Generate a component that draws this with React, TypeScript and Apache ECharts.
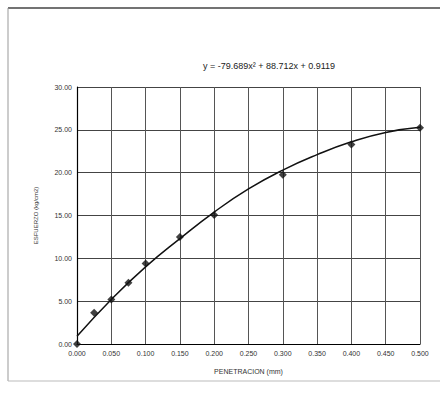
import React, { useEffect, useRef } from "react";
import * as echarts from "echarts";

const penetration = [0, 0.025, 0.05, 0.075, 0.1, 0.15, 0.2, 0.3, 0.4, 0.5];
const esfuerzo = [0, 3.65, 5.2, 7.15, 9.4, 12.5, 15.05, 19.75, 23.3, 25.25];

const trendX = [0, 0.05, 0.1, 0.15, 0.2, 0.25, 0.3, 0.35, 0.4, 0.45, 0.5];
const trendY = [0.9, 5.2, 9.0, 12.3, 15.4, 18.1, 20.3, 22.1, 23.6, 24.7, 25.3];

const equationText = "y = -79.689x² + 88.712x + 0.9119";
const xAxisName = "PENETRACION (mm)";
const yAxisName = "ESFUERZO (kg/cm2)";

export default function App() {
  const ref = useRef<HTMLDivElement>(null);
  useEffect(() => {
    if (!ref.current) return;
    const chart = echarts.init(ref.current, undefined, { renderer: "svg" });
    const font = "'Liberation Sans', Arial, sans-serif";
    chart.setOption({
      animation: false,
      backgroundColor: "#ffffff",
      textStyle: { fontFamily: font },
      grid: { left: 77, top: 87, right: 20, bottom: 56, containLabel: false },
      graphic: [
        { type: "line", shape: { x1: 8, y1: 8, x2: 440, y2: 8 }, style: { stroke: "#444", lineWidth: 1.5 } },
        { type: "line", shape: { x1: 8, y1: 8, x2: 8, y2: 381 }, style: { stroke: "#999", lineWidth: 1 } },
        { type: "line", shape: { x1: 8, y1: 381, x2: 440, y2: 381 }, style: { stroke: "#bbb", lineWidth: 1 } },
        {
          type: "text",
          x: 269,
          y: 66,
          style: {
            text: equationText,
            fontSize: 9,
            fontFamily: font,
            fill: "#222",
            textAlign: "center",
            textVerticalAlign: "middle",
          },
        },
      ],
      xAxis: {
        type: "value",
        min: 0,
        max: 0.5,
        interval: 0.05,
        name: xAxisName,
        nameLocation: "middle",
        nameGap: 24,
        nameTextStyle: { fontSize: 7, color: "#333", fontFamily: font },
        axisLine: { show: true, lineStyle: { color: "#000", width: 1.2 } },
        axisTick: { show: false },
        axisLabel: {
          fontSize: 7,
          color: "#333",
          margin: 6,
          formatter: (v: number) => v.toFixed(3),
        },
        splitLine: { show: true, lineStyle: { color: "#555", width: 1 } },
      },
      yAxis: {
        type: "value",
        min: 0,
        max: 30,
        interval: 5,
        name: yAxisName,
        nameLocation: "middle",
        nameRotate: 90,
        nameGap: 38,
        nameTextStyle: { fontSize: 6, color: "#333", fontFamily: font },
        axisLine: { show: true, lineStyle: { color: "#000", width: 1.2 } },
        axisTick: { show: false },
        axisLabel: {
          fontSize: 7,
          color: "#333",
          margin: 5,
          formatter: (v: number) => v.toFixed(2),
        },
        splitLine: { show: true, lineStyle: { color: "#444", width: 1 } },
      },
      series: [
        {
          type: "line",
          data: trendX.map((x, i) => [x, trendY[i]]),
          smooth: true,
          showSymbol: false,
          symbol: "none",
          lineStyle: { color: "#111", width: 1.5 },
          z: 2,
        },
        {
          type: "scatter",
          data: penetration.map((x, i) => [x, esfuerzo[i]]),
          symbol: "diamond",
          symbolSize: 8,
          itemStyle: { color: "#111" },
          z: 3,
        },
      ],
    });
    return () => chart.dispose();
  }, []);
  return (
    <div
      ref={ref}
      style={{ position: "absolute", left: 0, top: 0, width: 440, height: 400 }}
    />
  );
}
